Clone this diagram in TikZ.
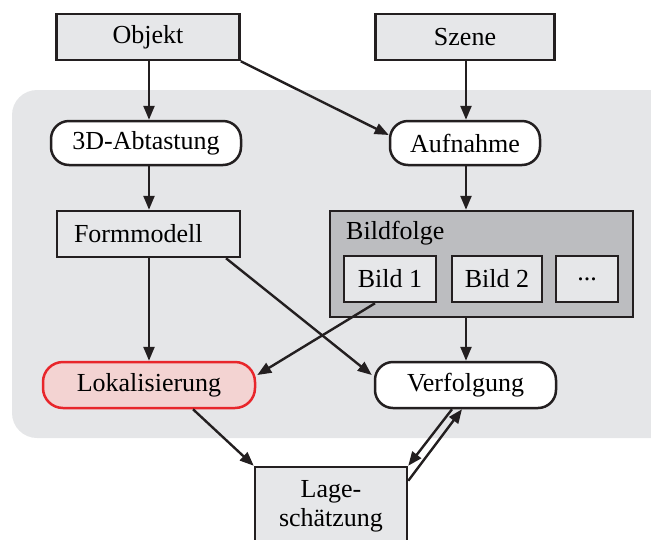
\documentclass[tikz,border=0pt]{standalone}
\usepackage{fontspec}
\setmainfont{Liberation Serif}
\usetikzlibrary{arrows.meta,calc}
\definecolor{bggray}{HTML}{E5E6E8}
\definecolor{boxgray}{HTML}{E6E7E9}
\definecolor{darkgray}{HTML}{BCBDC0}
\definecolor{lokfill}{HTML}{F3D3D2}
\definecolor{lokred}{HTML}{E8262B}
\definecolor{ink}{HTML}{231F20}
\tikzset{
  sqbox/.style={draw=ink, line width=2.5pt, fill=boxgray, inner sep=0pt, font=\fontsize{26}{29}\selectfont},
  rbox/.style={draw=ink, line width=2.5pt, fill=white, rounded corners=18pt, inner sep=0pt, font=\fontsize{26}{29}\selectfont},
  arr/.style={draw=ink, line width=2.4pt, -{Triangle[length=14pt,width=11pt]}},
}
\begin{document}
\begin{tikzpicture}[x=1pt,y=-1pt]
\useasboundingbox (0,0) rectangle (651,539);
\clip (0,0) rectangle (651,539);
% background
\fill[bggray, rounded corners=25pt] (12,90) rectangle (690,438);
% nodes
\node[sqbox, minimum width=183pt, minimum height=46pt] (obj) at (148,37) {Objekt};
\node[sqbox, minimum width=179pt, minimum height=46pt] (sz) at (465,37) {Szene};
\node[rbox, minimum width=190pt, minimum height=44pt] (abt) at (146,143) {3D-Abtastung};
\node[rbox, minimum width=150pt, minimum height=44pt] (auf) at (465,143) {Aufnahme};
\node[sqbox, minimum height=46pt, text width=149pt, inner xsep=17pt, align=left] (form) at (148.5,234) {Formmodell};
\node[sqbox, fill=darkgray, minimum width=303pt, minimum height=106pt] (bf) at (481.5,264) {};
\node[anchor=west, inner sep=0pt, font=\fontsize{26}{29}\selectfont] (bflab) at (346,233) {Bildfolge};
\node[sqbox, minimum width=92pt, minimum height=46pt] (b1) at (390,279) {Bild 1};
\node[sqbox, minimum width=90pt, minimum height=46pt] (b2) at (497,279) {Bild 2};
\node[sqbox, minimum width=62pt, minimum height=46pt] (b3) at (587,279) {{.}{.}{.}};
\node[rbox, draw=lokred, fill=lokfill, rounded corners=20pt, minimum width=212pt, minimum height=46pt] (lok) at (149,385) {Lokalisierung};
\node[rbox, minimum width=181pt, minimum height=46pt] (ver) at (465.5,385) {Verfolgung};
\node[sqbox, minimum width=152pt, minimum height=78pt, align=center] (lage) at (331,506) {Lage-\\schätzung};
% connectors
\draw[arr] (obj.south -| 149,0) -- (abt.north -| 149,0);
\draw[arr] (obj.south east) -- ([yshift=8pt]auf.west);
\draw[arr] (sz.south -| 466,0) -- (auf.north -| 466,0);
\draw[arr] (abt.south -| 149,0) -- (form.north -| 149,0);
\draw[arr] (auf.south -| 466,0) -- (bf.north -| 466,0);
\draw[arr] (form.south -| 149,0) -- (lok.north -| 149,0);
\draw[arr] (form.south -| 226,0) -- ([xshift=-2pt,yshift=10pt]ver.west);
\draw[arr] (b1.south -| 375,0) -- ([xshift=1pt,yshift=10pt]lok.east);
\draw[arr] (bf.south -| 466,0) -- (ver.north -| 466,0);
\draw[arr] (lok.south -| 193,0) -- (lage.north west);
\draw[arr] (ver.south -| 452,0) -- (lage.north east);
\draw[arr] ([yshift=-15pt]lage.north east) -- (ver.south -| 462,0);
\end{tikzpicture}
\end{document}
